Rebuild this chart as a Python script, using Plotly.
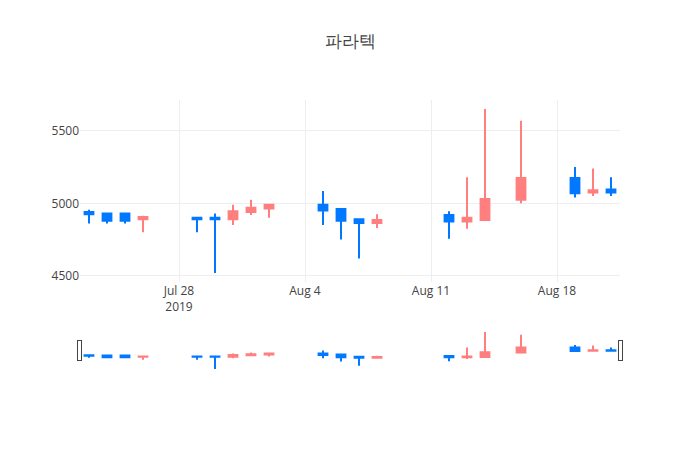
import plotly.graph_objects as go

# daily prices (파라텍, Jul-Aug 2019)
dates = ['2019-07-23', '2019-07-24', '2019-07-25', '2019-07-26',
         '2019-07-29', '2019-07-30', '2019-07-31', '2019-08-01', '2019-08-02',
         '2019-08-05', '2019-08-06', '2019-08-07', '2019-08-08',
         '2019-08-12', '2019-08-13', '2019-08-14', '2019-08-16',
         '2019-08-19', '2019-08-20', '2019-08-21']
open_ = [4940, 4930, 4930, 4890, 4900, 4900, 4890, 4940, 4965,
         4990, 4960, 4890, 4865, 4920, 4875, 4885, 5025, 5175, 5075, 5095]
high = [4955, 4930, 4935, 4915, 4905, 4930, 4990, 5025, 4995,
        5085, 4960, 4890, 4925, 4945, 5180, 5650, 5570, 5250, 5240, 5180]
low = [4860, 4860, 4860, 4800, 4800, 4520, 4850, 4920, 4900,
       4850, 4750, 4620, 4830, 4755, 4825, 4885, 5000, 5040, 5050, 5050]
close = [4925, 4880, 4880, 4905, 4890, 4890, 4945, 4970, 4990,
         4950, 4880, 4865, 4885, 4875, 4900, 5030, 5175, 5070, 5090, 5075]

fig = go.Figure(go.Candlestick(
    x=dates, open=open_, high=high, low=low, close=close,
    increasing=dict(line=dict(color='#ff7f7f'), fillcolor='#ff7f7f'),
    decreasing=dict(line=dict(color='#0078ff'), fillcolor='#0078ff'),
))

# page body adds an 8px offset, so the margins are shifted to compensate
fig.update_layout(
    title=dict(text='파라텍', x=0.4886, xref='container',
               y=0.926, yref='container', yanchor='middle'),
    template='none',
    width=700, height=450,
    margin=dict(l=72, r=88, t=92, b=88),
    showlegend=False,
)

fig.write_html("out.html")
